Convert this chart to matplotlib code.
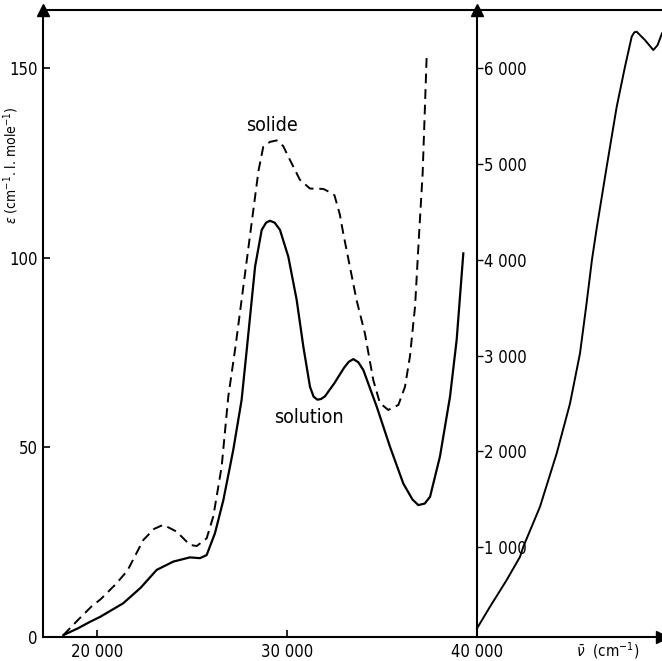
import numpy as np
import matplotlib
matplotlib.use("Agg")
import matplotlib.pyplot as plt

plt.rcParams['font.family'] = ['DejaVu Sans']
plt.rcParams['font.stretch'] = 'condensed'
plt.rcParams['mathtext.fontset'] = 'dejavusans'

# solution (solid line), wavenumber cm-1 vs epsilon
sol_x = [18230, 19000, 19630, 20160, 21380, 22300, 23140, 24020, 24890, 25420,
         25770, 26210, 26650, 27170, 27610, 27880, 28320, 28670, 28900, 29100,
         29350, 29630, 30070, 30510, 30860, 31210, 31400, 31600, 31800, 32000,
         32500, 33000, 33250, 33490, 33750, 34020, 34720, 35420, 36120, 36600,
         36910, 37250, 37530, 38050, 38580, 38930, 39280]
sol_y = [0.5, 2.3, 4.0, 5.3, 8.9, 13.0, 17.7, 19.9, 21.0, 20.8,
         21.6, 27.4, 36.1, 49.3, 62.5, 75.7, 97.7, 107.4, 109.3, 109.8,
         109.3, 107.4, 100.3, 88.9, 76.6, 66.0, 63.4, 62.6, 62.8, 63.5,
         67.0, 71.0, 72.6, 73.3, 72.5, 70.4, 60.8, 50.2, 40.5, 36.3,
         34.8, 35.2, 37.0, 47.6, 63.4, 78.4, 101.2]

# solide (dashed line)
solide_x = [18230, 19000, 19700, 20200, 21000, 21600, 22440, 23000, 23490, 24190,
            24890, 25250, 25770, 26120, 26560, 26910, 27300, 27610, 28230, 28500,
            28750, 29100, 29460, 29800, 30070, 30680, 31210, 31910, 32350, 32500,
            32780, 32960, 33660, 34100, 34540, 34890, 35330, 35860, 36210, 36470,
            36740, 36960, 37140, 37260, 37350]
solide_y = [0.5, 4.5, 8.0, 10.0, 14.0, 17.5, 25.6, 28.5, 29.6, 27.8,
            24.3, 24.0, 26.0, 31.8, 44.9, 63.4, 77.0, 88.9, 112.7, 123.0,
            129.3, 130.6, 131.0, 129.5, 126.7, 120.6, 118.3, 118.2, 117.1, 116.5,
            111.5, 106.5, 88.9, 80.1, 67.8, 61.7, 59.9, 61.2, 66.0, 74.0,
            87.2, 107.0, 122.4, 139.9, 153.1]

# right part, other scale
uv_x = [40000, 40684, 41563, 42263, 42437, 43316, 44195, 44895, 45421, 45750,
        46050, 46300, 46826, 47353, 47789, 48142, 48280, 48405, 48842, 49279,
        49500, 49737]
uv_y = [153, 379, 658, 900, 1005, 1423, 1980, 2500, 3024, 3520,
        4000, 4330, 4972, 5598, 6016, 6329, 6375, 6381, 6294, 6190,
        6240, 6364]

left_ticks = [0, 50, 100, 150]
x_ticks = [20000, 30000, 40000]
x_labels = ['20 000', '30 000', '40 000']
right_ticks = [1000, 2000, 3000, 4000, 5000, 6000]
right_labels = ['1 000', '2 000', '3 000', '4 000', '5 000', '6 000']

W, H = 662, 661
fig = plt.figure(figsize=(W/100, H/100), dpi=100)
ax = fig.add_axes([43/W, 1-637/H, 1-43/W, 627/H])

ax.plot(sol_x, sol_y, color='k', lw=1.6, solid_joinstyle='round')
ax.plot(solide_x, solide_y, color='k', lw=1.4, ls=(0, (5, 3)))

ax.set_xlim(17158, 49737)
ax.set_ylim(0, 165.4)
ax.spines['right'].set_visible(False)
for s in ['left', 'bottom', 'top']:
    ax.spines[s].set_linewidth(1.5)

ax.set_yticks(left_ticks)
ax.set_xticks(x_ticks)
ax.set_xticklabels(x_labels)
ax.tick_params(direction='in', length=5, width=1.2, labelsize=12, pad=4)
ax.set_ylabel(r"$\varepsilon$ (cm$^{-1}$. l. mole$^{-1}$)", fontsize=10)
ax.yaxis.set_label_coords(-22/619, 0.753)

ax.text(29200, 135, "solide", fontsize=14, ha='center', va='center')
ax.text(31160, 58, "solution", fontsize=14, ha='center', va='center')
ax.text(0.913, -0.022, r"$\bar{\nu}$  (cm$^{-1}$)", fontsize=11,
        transform=ax.transAxes, ha='center', va='center')

# second scale, spine at 40 000
ax2 = ax.twinx()
ax2.plot(uv_x, uv_y, color='k', lw=1.4, solid_joinstyle='round')
ax2.set_ylim(63, 6608)
for s in ['left', 'top', 'bottom']:
    ax2.spines[s].set_visible(False)
ax2.spines['right'].set_position(('data', 40000))
ax2.spines['right'].set_linewidth(1.5)
ax2.set_yticks(right_ticks)
ax2.set_yticklabels(right_labels)
ax2.tick_params(axis='y', direction='out', length=4, width=1.0, labelsize=12, pad=1)

# arrow heads
xt = ax.get_xaxis_transform()
ax.plot([17158], [1.0], marker='^', ms=9, color='k', transform=xt, clip_on=False)
ax.plot([40000], [1.0], marker='^', ms=9, color='k', transform=xt, clip_on=False)
ax.plot([1.0], [0.0], marker='>', ms=9, color='k', transform=ax.transAxes, clip_on=False)

fig.savefig("out.png", dpi=100)
